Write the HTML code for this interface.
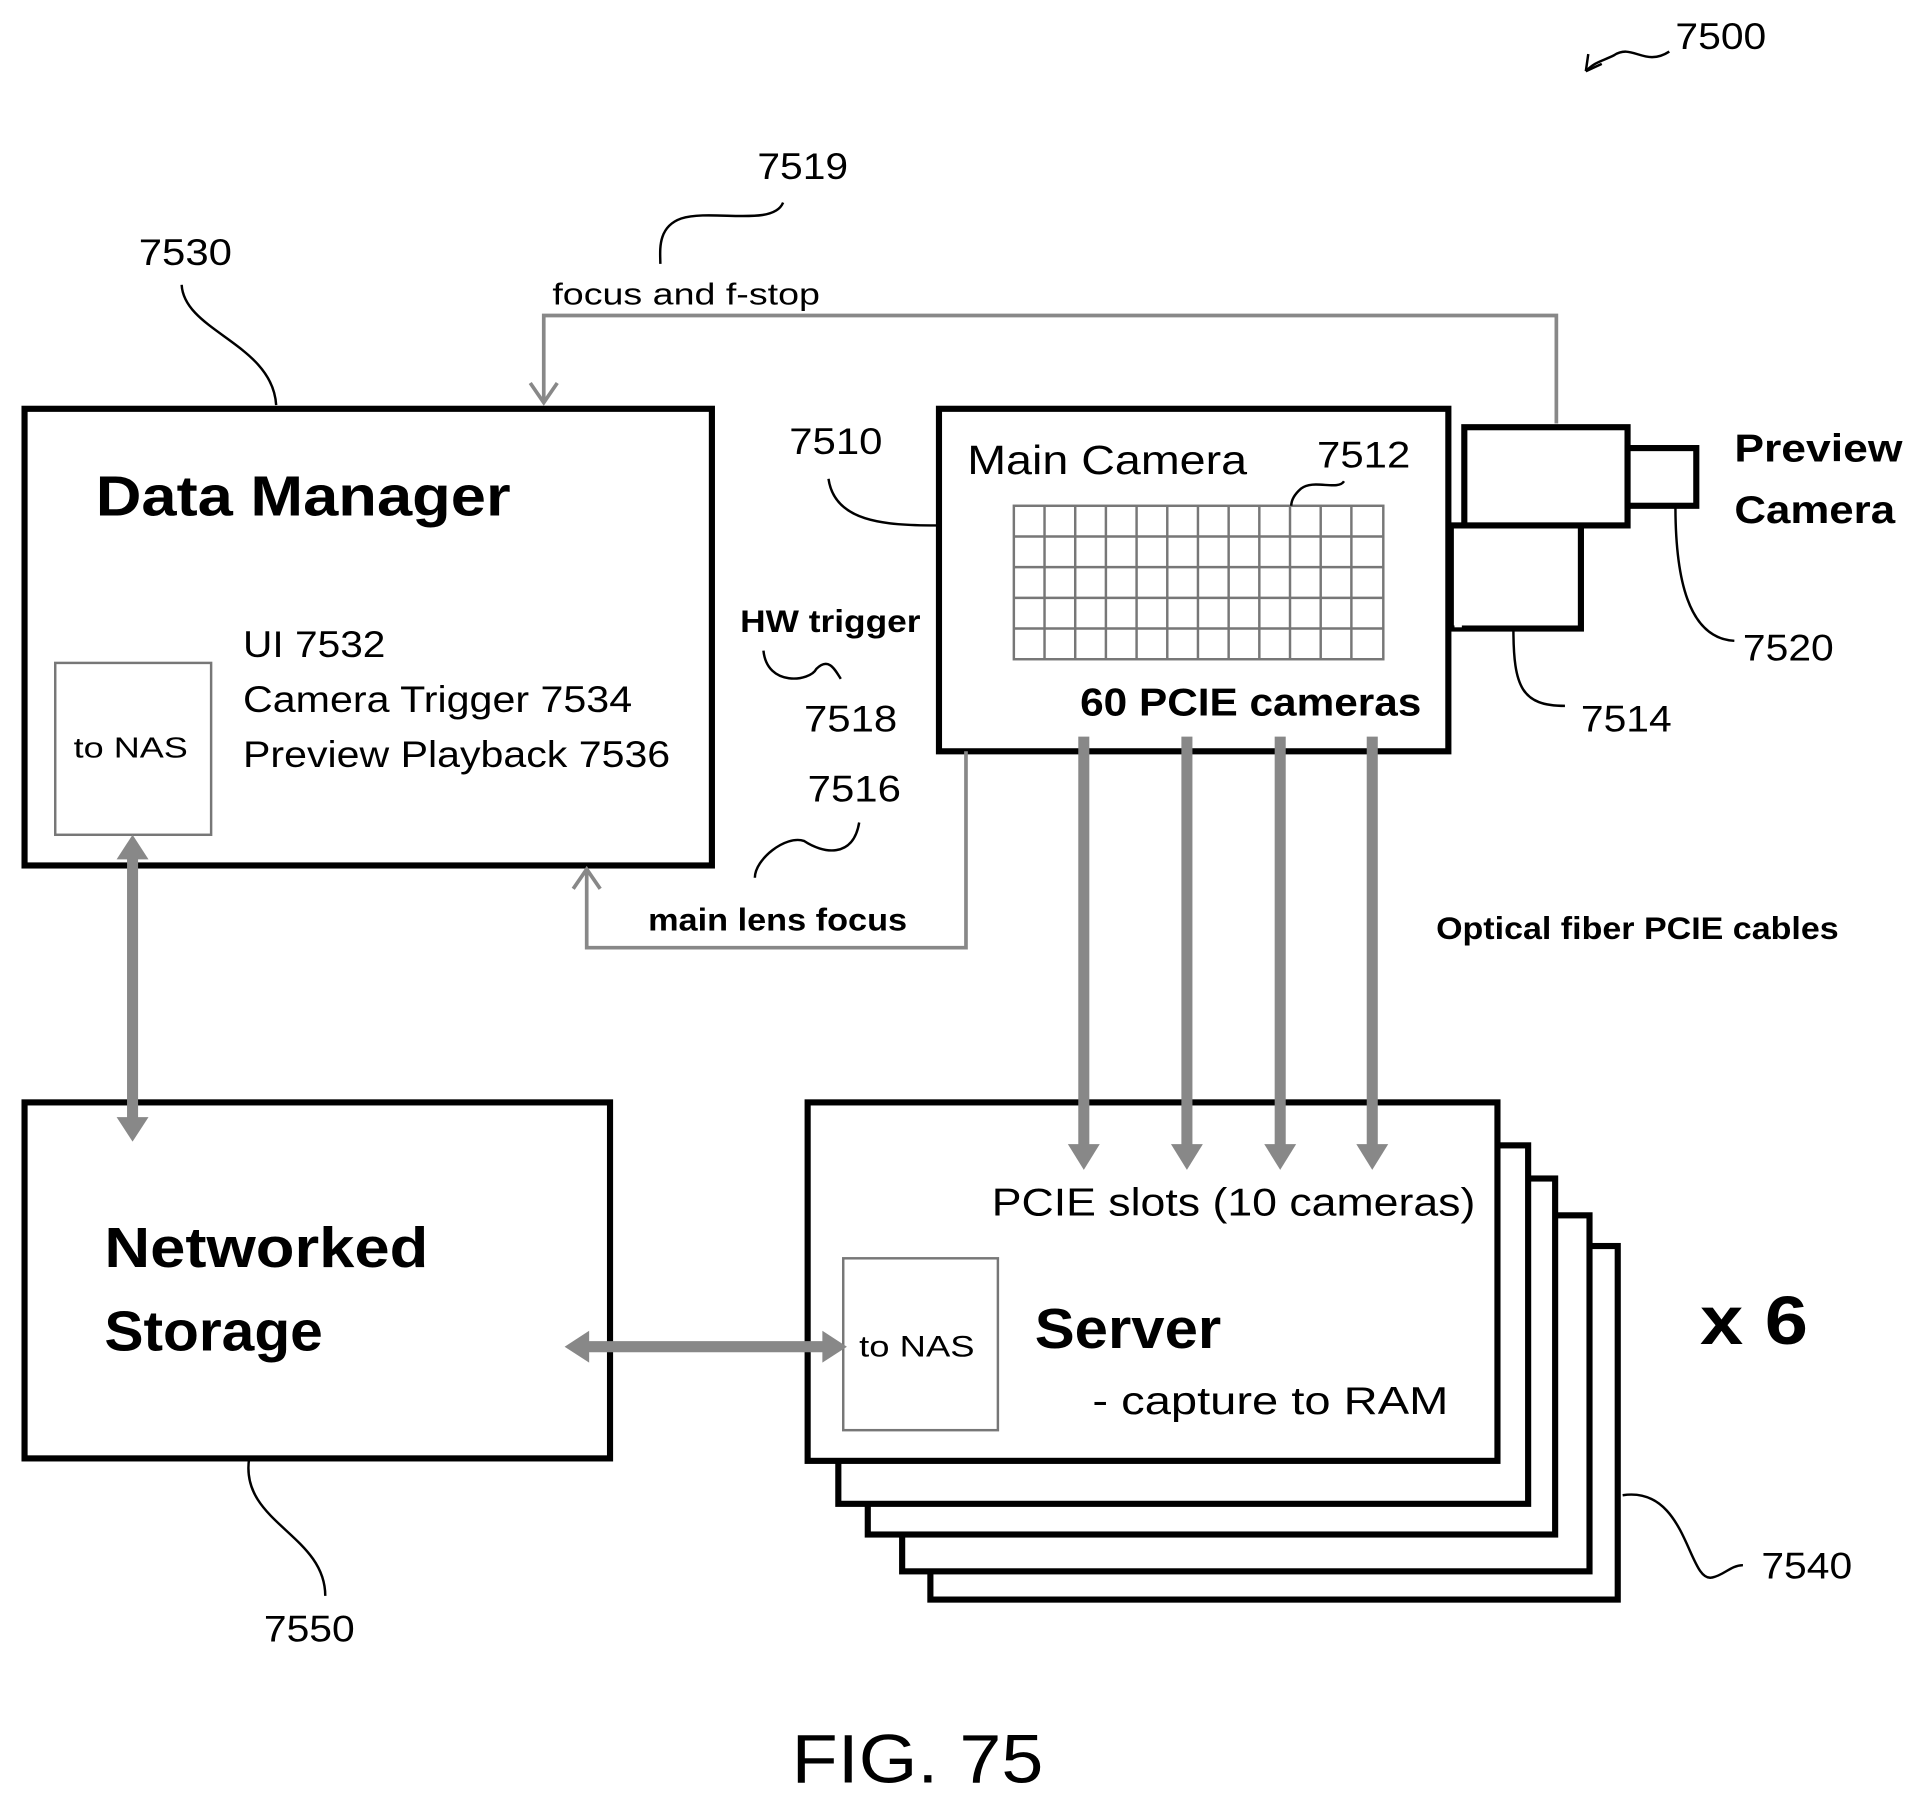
<!DOCTYPE html>
<html><head><meta charset="utf-8"><style>html,body{margin:0;padding:0;background:#fff}svg{display:block}</style></head><body>
<svg width="1916" height="1796" viewBox="0 0 1561 1463" preserveAspectRatio="none" xmlns="http://www.w3.org/2000/svg" font-family="Liberation Sans, sans-serif">
<!-- boxes -->
<g fill="#fff" stroke="#000" stroke-width="5">
<rect x="758" y="1015" width="560" height="288"/>
<rect x="735" y="990" width="560" height="290"/>
<rect x="707" y="960" width="560" height="290"/>
<rect x="683" y="933" width="562" height="292"/>
<rect x="658" y="898" width="562" height="292"/>
<rect x="20" y="333" width="560" height="372"/>
<rect x="765" y="333" width="415" height="279"/>
<rect x="20" y="898" width="477" height="290"/>
<rect x="1182" y="428" width="106" height="84"/>
<rect x="1193" y="348" width="133" height="80"/>
<rect x="1326" y="365" width="56" height="47"/>
</g>
<rect x="1185" y="431" width="6" height="80" fill="#fff"/>
<g fill="none" stroke="#777" stroke-width="2">
<rect x="45" y="540" width="127" height="140"/>
<rect x="687" y="1025" width="126" height="140"/>
</g>
<!-- grid -->
<g stroke="#777" stroke-width="2" fill="none">
<rect x="826" y="412" width="301" height="125"/>
<path d="M851,412V537M876,412V537M901,412V537M926,412V537M951,412V537M976,412V537M1001,412V537M1026,412V537M1051,412V537M1076,412V537M1101,412V537"/>
<path d="M826,437H1127M826,462H1127M826,487H1127M826,512H1127"/>
</g>
<g fill="none" stroke="#000" stroke-width="2">
<path d="M1360,42 C1340,55 1330,35 1315,45 C1305,50 1300,50 1292,58"/>
<path d="M1292,58 l2,-14 M1292,58 l13,-6"/>
<path d="M638,165 C630,185 580,170 555,178 C535,185 538,205 538,215"/>
<path d="M148,232 C150,270 222,280 225,330"/>
<path d="M675,390 C680,425 720,428 763,428"/>
<path d="M1095,392 C1090,400 1070,390 1060,398 C1052,405 1052,410 1052,412"/>
<path d="M1365,412 C1365,470 1375,520 1413,522"/>
<path d="M1233,512 C1233,560 1240,575 1275,575"/>
<path d="M622,530 C625,560 660,555 665,545 C675,535 680,545 685,553"/>
<path d="M700,670 C695,700 670,695 655,685 C640,680 615,700 615,715"/>
<path d="M1322,1218 C1375,1210 1375,1290 1395,1285 C1405,1283 1410,1275 1420,1275"/>
<path d="M203,1188 C195,1240 265,1250 265,1300"/>
</g>
<g fill="none" stroke="#888" stroke-width="3">
<path d="M1268,345 V257 H443 V328"/>
<path d="M432,312 L443,328 L454,312"/>
<path d="M787,612 V772 H478 V708"/>
<path d="M467,724 L478,708 L489,724"/>
</g>
<g stroke="#888" stroke-width="9" fill="#888">
<line x1="883" y1="600" x2="883" y2="935"/>
<line x1="967" y1="600" x2="967" y2="935"/>
<line x1="1043" y1="600" x2="1043" y2="935"/>
<line x1="1118" y1="600" x2="1118" y2="935"/>
<line x1="108" y1="698" x2="108" y2="912"/>
<line x1="478" y1="1097" x2="672" y2="1097"/>
</g>
<g fill="#888">
<path d="M870,932 L896,932 L883,953Z"/><path d="M954,932 L980,932 L967,953Z"/><path d="M1030,932 L1056,932 L1043,953Z"/><path d="M1105,932 L1131,932 L1118,953Z"/>
<path d="M95,700 L121,700 L108,680Z"/><path d="M95,910 L121,910 L108,930Z"/>
<path d="M480,1084 L480,1110 L460,1097Z"/><path d="M670,1084 L670,1110 L690,1097Z"/>
</g>
<g fill="#000">
<text x="1365" y="40" font-size="30" textLength="74" lengthAdjust="spacingAndGlyphs">7500</text>
<text x="617" y="146" font-size="30" textLength="74" lengthAdjust="spacingAndGlyphs">7519</text>
<text x="113" y="216" font-size="30" textLength="76" lengthAdjust="spacingAndGlyphs">7530</text>
<text x="450" y="248" font-size="25" textLength="218" lengthAdjust="spacingAndGlyphs">focus and f-stop</text>
<text x="78" y="420" font-size="46" font-weight="bold" textLength="338" lengthAdjust="spacingAndGlyphs">Data Manager</text>
<text x="60" y="617" font-size="23" textLength="93" lengthAdjust="spacingAndGlyphs">to NAS</text>
<text x="198" y="535" font-size="30" textLength="116" lengthAdjust="spacingAndGlyphs">UI 7532</text>
<text x="198" y="580" font-size="30" textLength="317" lengthAdjust="spacingAndGlyphs">Camera Trigger 7534</text>
<text x="198" y="625" font-size="30" textLength="348" lengthAdjust="spacingAndGlyphs">Preview Playback 7536</text>
<text x="643" y="370" font-size="30" textLength="76" lengthAdjust="spacingAndGlyphs">7510</text>
<text x="788" y="386" font-size="33" textLength="228" lengthAdjust="spacingAndGlyphs">Main Camera</text>
<text x="1073" y="381" font-size="30" textLength="76" lengthAdjust="spacingAndGlyphs">7512</text>
<text x="880" y="583" font-size="32" font-weight="bold" textLength="278" lengthAdjust="spacingAndGlyphs">60 PCIE cameras</text>
<text x="1413" y="376" font-size="32" font-weight="bold" textLength="137" lengthAdjust="spacingAndGlyphs">Preview</text>
<text x="1413" y="426" font-size="32" font-weight="bold" textLength="131" lengthAdjust="spacingAndGlyphs">Camera</text>
<text x="1420" y="538" font-size="30" textLength="74" lengthAdjust="spacingAndGlyphs">7520</text>
<text x="1288" y="596" font-size="30" textLength="74" lengthAdjust="spacingAndGlyphs">7514</text>
<text x="603" y="515" font-size="26" font-weight="bold" textLength="147" lengthAdjust="spacingAndGlyphs">HW trigger</text>
<text x="655" y="596" font-size="30" textLength="76" lengthAdjust="spacingAndGlyphs">7518</text>
<text x="658" y="653" font-size="30" textLength="76" lengthAdjust="spacingAndGlyphs">7516</text>
<text x="528" y="758" font-size="26" font-weight="bold" textLength="211" lengthAdjust="spacingAndGlyphs">main lens focus</text>
<text x="1170" y="765" font-size="26" font-weight="bold" textLength="328" lengthAdjust="spacingAndGlyphs">Optical fiber PCIE cables</text>
<text x="85" y="1032" font-size="46" font-weight="bold" textLength="264" lengthAdjust="spacingAndGlyphs">Networked</text>
<text x="85" y="1100" font-size="46" font-weight="bold" textLength="178" lengthAdjust="spacingAndGlyphs">Storage</text>
<text x="808" y="990" font-size="32" textLength="394" lengthAdjust="spacingAndGlyphs">PCIE slots (10 cameras)</text>
<text x="700" y="1105" font-size="24" textLength="94" lengthAdjust="spacingAndGlyphs">to NAS</text>
<text x="843" y="1098" font-size="46" font-weight="bold" textLength="152" lengthAdjust="spacingAndGlyphs">Server</text>
<text x="890" y="1152" font-size="32" textLength="290" lengthAdjust="spacingAndGlyphs">- capture to RAM</text>
<text x="1385" y="1095" font-size="56" font-weight="bold" textLength="88" lengthAdjust="spacingAndGlyphs">x 6</text>
<text x="1435" y="1286" font-size="30" textLength="74" lengthAdjust="spacingAndGlyphs">7540</text>
<text x="215" y="1337" font-size="30" textLength="74" lengthAdjust="spacingAndGlyphs">7550</text>
<text x="645" y="1452" font-size="56" textLength="205" lengthAdjust="spacingAndGlyphs">FIG.  75</text>
</g>
</svg>
</body></html>
